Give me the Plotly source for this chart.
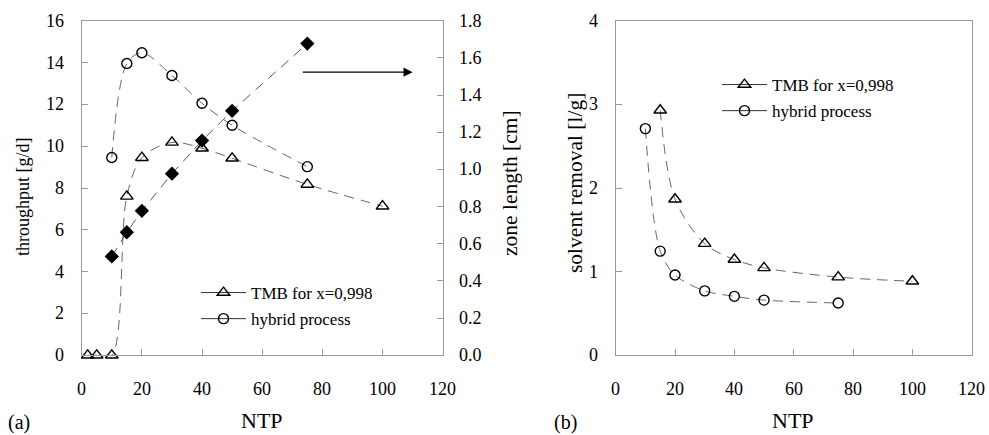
import plotly.graph_objects as go

# ---------------- data ----------------
ntp_tmb = [2, 5, 10, 15, 20, 30, 40, 50, 75, 100]
throughput_tmb = [0, 0, 0, 7.6, 9.45, 10.18, 9.9, 9.42, 8.17, 7.13]

ntp_hyb = [10, 15, 20, 30, 40, 50, 75]
throughput_hyb = [9.46, 13.95, 14.47, 13.38, 12.05, 11.0, 9.02]

ntp_zone = [10, 15, 20, 30, 40, 50, 75]
zone_length = [0.532, 0.662, 0.777, 0.977, 1.155, 1.315, 1.677]

ntp_sr_tmb = [15, 20, 30, 40, 50, 75, 100]
solvent_tmb = [2.93, 1.866, 1.335, 1.145, 1.045, 0.935, 0.885]

ntp_sr_hyb = [10, 15, 20, 30, 40, 50, 75]
solvent_hyb = [2.71, 1.245, 0.96, 0.77, 0.705, 0.66, 0.625]

legend_names = ["TMB for x=0,998", "hybrid process"]
x_ticks = [0, 20, 40, 60, 80, 100, 120]
y1_ticks = [0, 2, 4, 6, 8, 10, 12, 14, 16]
y2_ticks = [0.0, 0.2, 0.4, 0.6, 0.8, 1.0, 1.2, 1.4, 1.6, 1.8]
y3_ticks = [0, 1, 2, 3, 4]

# ---------------- style ----------------
FONT = "'Liberation Serif', 'Times New Roman', 'DejaVu Serif', serif"
AX = "#9a9a9a"
CURVE = "#555555"
DASH = "10px,7px"

fig = go.Figure()

def curve(x, y, sym, xa, ya, shape="spline"):
    return go.Scatter(
        x=x, y=y, xaxis=xa, yaxis=ya, mode="lines+markers",
        line=dict(color=CURVE, width=0.9, dash=DASH, shape=shape, smoothing=0.9),
        marker=dict(symbol=sym, size=11 if "triangle" in sym else 10,
                    color="black", line=dict(color="black", width=1.4)),
        showlegend=False, cliponaxis=False, hoverinfo="skip")

# left chart
fig.add_trace(curve(ntp_tmb, throughput_tmb, "triangle-up-open", "x", "y"))
fig.add_trace(curve(ntp_hyb, throughput_hyb, "circle-open", "x", "y"))
fig.add_trace(go.Scatter(
    x=ntp_zone, y=zone_length, xaxis="x", yaxis="y2", mode="lines+markers",
    line=dict(color="#444444", width=0.9, dash=DASH),
    marker=dict(symbol="diamond", size=11, color="black"),
    showlegend=False, cliponaxis=False, hoverinfo="skip"))

# right chart
fig.add_trace(curve(ntp_sr_tmb, solvent_tmb, "triangle-up-open", "x3", "y3"))
fig.add_trace(curve(ntp_sr_hyb, solvent_hyb, "circle-open", "x3", "y3"))

# legend entries (solid sample lines, as in the reference)
for leg, xa, ya in (("legend", "x", "y"), ("legend2", "x3", "y3")):
    for i, (name, sym) in enumerate(zip(legend_names, ["triangle-up-open", "circle-open"])):
        fig.add_trace(go.Scatter(
            x=[None], y=[None], xaxis=xa, yaxis=ya, name=name, legend=leg,
            legendgroup=f"{leg}{i}", mode="lines+markers",
            line=dict(color="#333333", width=1),
            marker=dict(symbol=sym, size=11 if i == 0 else 10, color="black",
                        line=dict(color="black", width=1.4))))

W, H = 989, 435
def px_x(p): return p / W
def px_y(p): return 1 - p / H

xl = [px_x(81.7), px_x(442.7)]
xr = [px_x(615.7), px_x(971.7)]
yd = [px_y(355.3), px_y(20.7)]

common = dict(showline=True, linecolor=AX, linewidth=1.2, ticks="inside",
              ticklen=6, tickcolor=AX, showgrid=False, zeroline=False,
              showticklabels=False)

fig.update_layout(
    width=W, height=H, margin=dict(l=0, r=0, t=0, b=0),
    paper_bgcolor="white", plot_bgcolor="white",
    font=dict(family=FONT, color="black", size=18),
    xaxis=dict(domain=xl, range=[0, 120], tickvals=x_ticks, mirror=True,
               anchor="y", **common),
    yaxis=dict(domain=yd, range=[0, 16], tickvals=y1_ticks, anchor="x", **common),
    yaxis2=dict(range=[0, 1.8], tickvals=y2_ticks, overlaying="y", side="right",
                anchor="x", **common),
    xaxis3=dict(domain=xr, range=[0, 120], tickvals=x_ticks, mirror=True,
                anchor="y3", **common),
    yaxis3=dict(domain=yd, range=[0, 4], tickvals=y3_ticks, anchor="x3",
                mirror=True, **common),
    legend=dict(x=px_x(196), y=px_y(275), xanchor="left", yanchor="top",
                bgcolor="rgba(0,0,0,0)", font=dict(family=FONT, size=17),
                itemwidth=45, tracegroupgap=1),
    legend2=dict(x=px_x(717), y=px_y(67), xanchor="left", yanchor="top",
                 bgcolor="rgba(0,0,0,0)", font=dict(family=FONT, size=17),
                 itemwidth=45, tracegroupgap=1),
)

ann = []
TICKFONT = dict(family=FONT, size=18, color="black")

# tick labels (drawn as text so the serif face is honoured)
for v in x_ticks:
    ann.append(dict(x=v, y=px_y(388.5), xref="x", yref="paper", text=str(v),
                    showarrow=False, xanchor="center", yanchor="middle", font=TICKFONT))
    ann.append(dict(x=v, y=px_y(388.5), xref="x3", yref="paper", text=str(v),
                    showarrow=False, xanchor="center", yanchor="middle", font=TICKFONT))
for v in y1_ticks:
    ann.append(dict(x=px_x(66), y=v, xref="paper", yref="y", text=str(v),
                    showarrow=False, xanchor="right", yanchor="middle", font=TICKFONT))
for v in y2_ticks:
    ann.append(dict(x=px_x(457), y=v, xref="paper", yref="y2", text=f"{v:.1f}",
                    showarrow=False, xanchor="left", yanchor="middle", font=TICKFONT))
for v in y3_ticks:
    ann.append(dict(x=px_x(600), y=v, xref="paper", yref="y3", text=str(v),
                    showarrow=False, xanchor="right", yanchor="middle", font=TICKFONT))

def text(x, y, s, size, angle=0, yanchor="middle"):
    ann.append(dict(x=px_x(x), y=px_y(y), xref="paper", yref="paper", text=s,
                    showarrow=False, textangle=angle, xanchor="center",
                    yanchor=yanchor, borderpad=0,
                    font=dict(family=FONT, size=size, color="black")))

text(23, 197, "throughput [g/d]", 18, -90)
text(510, 183, "zone length [cm]", 21.5, -90)
text(575, 183, "solvent removal [l/g]", 21.5, -90)
text(262, 434, "NTP", 22, yanchor="bottom")
text(793, 434, "NTP", 22, yanchor="bottom")
text(19, 422, "(a)", 20)
text(565, 422, "(b)", 20)

# arrow pointing to the right-hand axis
ann.append(dict(x=110, y=13.54, ax=73, ay=13.54, xref="x", yref="y",
                axref="x", ayref="y", text="", showarrow=True,
                arrowhead=2, arrowsize=1.4, arrowwidth=1.3, arrowcolor="black"))

fig.update_layout(annotations=ann)
fig.write_html("out.html")
